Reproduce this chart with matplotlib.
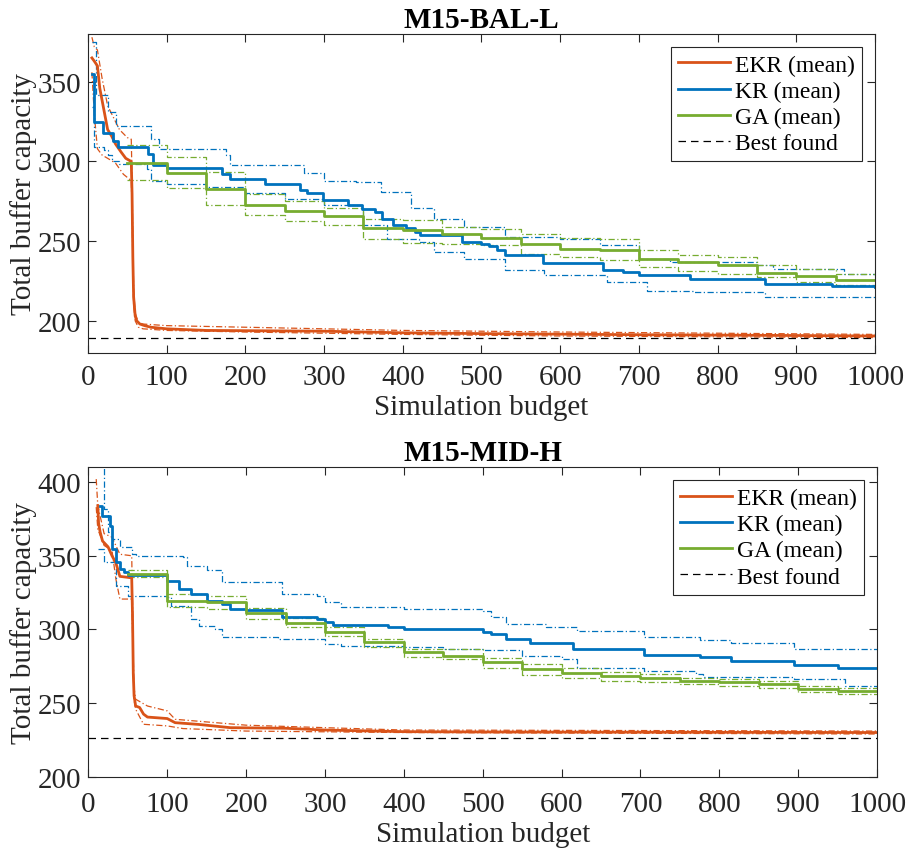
import matplotlib
matplotlib.use("Agg")
import matplotlib.pyplot as plt

plt.rcParams['font.family'] = ['Liberation Serif', 'DejaVu Serif']

ORANGE = '#D95319'
BLUE = '#0072BD'
GREEN = '#77AC30'

# ---------------- M15-BAL-L ----------------
bal_ekr_x = [5, 8, 12, 15, 20, 25, 30, 35, 42, 48, 55, 56, 57, 58, 60, 62, 66, 72, 80, 100, 150, 300, 400, 500, 700, 900, 1000]
bal_ekr_y = [365, 363, 360, 346, 333, 320, 316, 311, 306, 302, 300, 280, 240, 215, 203, 200, 198, 197, 196, 195, 194, 193.5, 192.5, 192, 191.3, 190.8, 190.5]
bal_ekr_hi_x = [5, 8, 12, 18, 25, 32, 40, 50, 55, 56, 57, 58, 60, 64, 70, 100, 200, 400, 600, 1000]
bal_ekr_hi_y = [378, 372, 370, 352, 335, 328, 320, 315, 314, 290, 250, 220, 205, 199, 198, 197, 196, 194, 193, 191.5]
bal_ekr_lo_x = [5, 8, 12, 18, 25, 35, 45, 55, 56, 57, 58, 60, 64, 70, 100, 200, 400, 600, 1000]
bal_ekr_lo_y = [356, 330, 308, 304, 302, 299, 292, 288, 270, 235, 210, 200, 196, 195, 194, 193, 191.5, 190.5, 189.5]

bal_kr_x = [5, 8, 19, 32, 38, 76, 83, 100, 170, 180, 225, 270, 278, 298, 330, 348, 365, 374, 388, 404, 416, 422, 475, 500, 510, 520, 530, 578, 655, 680, 700, 765, 800, 860, 945, 1000]
bal_kr_y = [355, 325, 318, 313, 309, 305, 298, 296, 292, 289, 286, 282, 280, 276, 273, 270, 268, 264, 260, 258, 256, 254, 249.5, 248.4, 247, 244.2, 241.5, 236, 232, 230.6, 228.5, 226.4, 226, 223.3, 221.8, 221.2]
bal_kr_hi_x = [5, 10, 25, 35, 80, 90, 175, 180, 275, 300, 340, 372, 410, 440, 478, 530, 600, 650, 700, 740, 850, 870, 960, 1000]
bal_kr_hi_y = [375, 342, 331, 322, 314, 308, 304, 298, 293, 288, 287, 281, 271, 264, 259, 252.6, 251.5, 247.4, 239, 237, 234.8, 232.7, 229.6, 229]
bal_kr_lo_x = [5, 8, 20, 25, 30, 40, 75, 80, 100, 150, 200, 250, 300, 350, 380, 420, 440, 478, 530, 580, 660, 710, 770, 860, 1000]
bal_kr_lo_y = [334, 309, 307, 304, 300, 298.7, 295.5, 287.6, 286, 283.8, 280, 276.7, 272.5, 260, 251.5, 249.5, 243.5, 239, 231.6, 229, 224.3, 219, 218, 215, 214]

ga_x = [50, 100, 150, 200, 250, 300, 350, 400, 450, 500, 550, 600, 650, 700, 750, 800, 850, 900, 950, 1000]
bal_ga_y = [299.3, 293, 283, 273, 268.9, 265.8, 258.3, 256.8, 254.5, 252.2, 248.4, 245.3, 244.2, 239, 237, 234.8, 230.2, 227.9, 225.8, 225.8]
bal_ga_hi_y = [310.2, 302.9, 293.4, 279.4, 275, 271, 264, 263, 259, 257.4, 254.7, 252, 251.1, 244.2, 241.5, 240, 235.2, 232.7, 229.6, 229.6]
bal_ga_lo_y = [288.2, 283.6, 272.5, 266.2, 262.4, 260, 251.5, 249, 248.4, 247.4, 242, 240, 237.9, 233.7, 231, 229.6, 227.5, 224.3, 222.8, 222.8]
bal_best = 189

# ---------------- M15-MID-H ----------------
mid_ekr_x = [12, 13, 15, 18, 25, 30, 35, 40, 55, 56, 57, 58, 60, 65, 70, 75, 100, 110, 140, 180, 250, 300, 400, 500, 1000]
mid_ekr_y = [384, 372, 366, 360, 356, 350, 345, 336, 335, 310, 270, 255, 248, 247, 242.5, 240.5, 239.5, 236.7, 235.5, 233.3, 232.9, 231.7, 230.6, 230.4, 230]
mid_ekr_hi_x = [10, 12, 20, 30, 40, 55, 56, 57, 58, 60, 75, 100, 110, 150, 200, 300, 400, 1000]
mid_ekr_hi_y = [402, 384, 365, 362.6, 351, 350, 320, 280, 260, 252.6, 248, 244.7, 239, 237.2, 235, 233.3, 231.7, 231]
mid_ekr_lo_x = [10, 12, 20, 30, 35, 40, 55, 56, 57, 58, 60, 70, 100, 120, 200, 400, 1000]
mid_ekr_lo_y = [383, 368, 357, 353.5, 334, 320.6, 320.6, 300, 270, 252, 245.8, 235.6, 234.5, 232.7, 231, 230, 229]

mid_kr_x = [15, 17, 27, 30, 35, 40, 45, 50, 100, 115, 130, 150, 170, 180, 200, 245, 290, 300, 310, 380, 400, 500, 510, 530, 560, 615, 705, 775, 815, 895, 950, 1000]
mid_kr_y = [384, 377, 370.5, 354.6, 345.6, 341, 338.8, 337, 333, 327.4, 324, 319.5, 317.2, 313.8, 313, 308.2, 307, 304.8, 303.2, 301.4, 300.2, 298.5, 296.8, 293.4, 290.7, 286.6, 282.8, 281, 278.7, 275.8, 274.1, 273.5]
mid_kr_hi_x = [15, 20, 25, 30, 40, 55, 60, 120, 125, 150, 170, 245, 290, 300, 320, 400, 500, 510, 530, 580, 620, 705, 775, 815, 895, 1000]
mid_kr_hi_y = [415, 382, 366, 361.5, 355.8, 351.2, 350, 349, 343.3, 340, 332, 324, 322.9, 318.4, 315, 313.8, 312.7, 308.2, 303.6, 301.4, 299.1, 294.6, 293, 290.7, 287, 287]
mid_kr_lo_x = [12, 20, 35, 50, 100, 105, 130, 140, 160, 170, 240, 300, 320, 400, 450, 500, 550, 600, 620, 705, 770, 780, 895, 960, 1000]
mid_kr_lo_y = [354.6, 345.6, 329.7, 322.9, 321.8, 316, 307, 302.5, 300.2, 294.6, 293.4, 290, 288.4, 287.8, 286.6, 286, 282, 279.8, 274.1, 272, 269.6, 268, 266.2, 261.7, 260]

mid_ga_y = [337.6, 319.5, 318.4, 311.1, 304.3, 298, 291.2, 284.4, 282.1, 277.6, 273, 270.3, 268.5, 267.3, 265.1, 264, 262.8, 259.4, 258.3, 258.3]
mid_ga_hi_y = [340.6, 324, 322.9, 314.5, 307.5, 301.4, 293.4, 287, 286.6, 280.3, 276.4, 273.5, 271.2, 269.6, 267.3, 266.2, 265.1, 261.7, 260.5, 260.5]
mid_ga_lo_y = [335.4, 315, 313.8, 307, 301.4, 295.7, 288.2, 281, 279.8, 274.1, 269, 267.3, 265.1, 264, 262.8, 261.7, 260.1, 257.6, 256, 256]
mid_best = 226.5

panels = [
    ("M15-BAL-L", (bal_ekr_x, bal_ekr_y, bal_ekr_hi_x, bal_ekr_hi_y, bal_ekr_lo_x, bal_ekr_lo_y),
     (bal_kr_x, bal_kr_y, bal_kr_hi_x, bal_kr_hi_y, bal_kr_lo_x, bal_kr_lo_y),
     (bal_ga_y, bal_ga_hi_y, bal_ga_lo_y), bal_best, (180, 380), [200, 250, 300, 350],
     [0.0971, 0.5858, 0.8687, 0.3732], 8),
    ("M15-MID-H", (mid_ekr_x, mid_ekr_y, mid_ekr_hi_x, mid_ekr_hi_y, mid_ekr_lo_x, mid_ekr_lo_y),
     (mid_kr_x, mid_kr_y, mid_kr_hi_x, mid_kr_hi_y, mid_kr_lo_x, mid_kr_lo_y),
     (mid_ga_y, mid_ga_hi_y, mid_ga_lo_y), mid_best, (200, 410), [200, 250, 300, 350, 400],
     [0.0975, 0.0893, 0.8705, 0.3623], 10),
]

fig = plt.figure(figsize=(9.06, 8.54), dpi=100)
mw, bw = 2.0, 0.9
dash_dot = (0, (5, 2, 1, 2))

for title, ekr, kr, ga, best, ylim, yticks, pos, xpad in panels:
    ax = fig.add_axes(pos)
    # bounds first (thin dash-dot), then means
    ax.plot(ekr[2], ekr[3], color=ORANGE, lw=bw, ls=dash_dot)
    ax.plot(ekr[4], ekr[5], color=ORANGE, lw=bw, ls=dash_dot)
    ax.plot(kr[2], kr[3], color=BLUE, lw=bw, ls=dash_dot, drawstyle='steps-post')
    ax.plot(kr[4], kr[5], color=BLUE, lw=bw, ls=dash_dot, drawstyle='steps-post')
    ax.plot(ga_x, ga[1], color=GREEN, lw=bw, ls=dash_dot, drawstyle='steps-post')
    ax.plot(ga_x, ga[2], color=GREEN, lw=bw, ls=dash_dot, drawstyle='steps-post')
    l1, = ax.plot(ekr[0], ekr[1], color=ORANGE, lw=mw, label='EKR (mean)')
    l2, = ax.plot(kr[0], kr[1], color=BLUE, lw=mw, drawstyle='steps-post', label='KR (mean)')
    l3, = ax.plot(ga_x, ga[0], color=GREEN, lw=mw, drawstyle='steps-post', label='GA (mean)')
    l4 = ax.axhline(best, color='black', lw=0.9, ls=(0, (6, 4)), label='Best found')

    ax.set_xlim(0, 1000)
    ax.set_ylim(*ylim)
    ax.set_xticks(range(0, 1001, 100))
    ax.set_yticks(yticks)
    ax.tick_params(direction='in', top=True, right=True, labelsize=21, length=6,
                   width=0.8, colors='#262626', labelcolor='#262626', pad=5)
    ax.tick_params(axis='x', pad=xpad)
    for s in ax.spines.values():
        s.set_color('#262626')
        s.set_linewidth(0.8)
    ax.set_xlabel('Simulation budget', fontsize=21, color='#262626', labelpad=3)
    ax.set_ylabel('Total buffer capacity', fontsize=21, color='#262626', labelpad=0.5)
    ax.set_title(title, fontsize=21, fontweight='bold', pad=5)
    leg = ax.legend(handles=[l1, l2, l3, l4], loc='upper right', fontsize=17,
                    fancybox=False, framealpha=1, edgecolor='#262626',
                    handlelength=2.2, handletextpad=0.2, borderpad=0.3,
                    labelspacing=0.2, borderaxespad=0.55)
    leg.get_frame().set_linewidth(0.8)

fig.savefig('out.png', dpi=100)
